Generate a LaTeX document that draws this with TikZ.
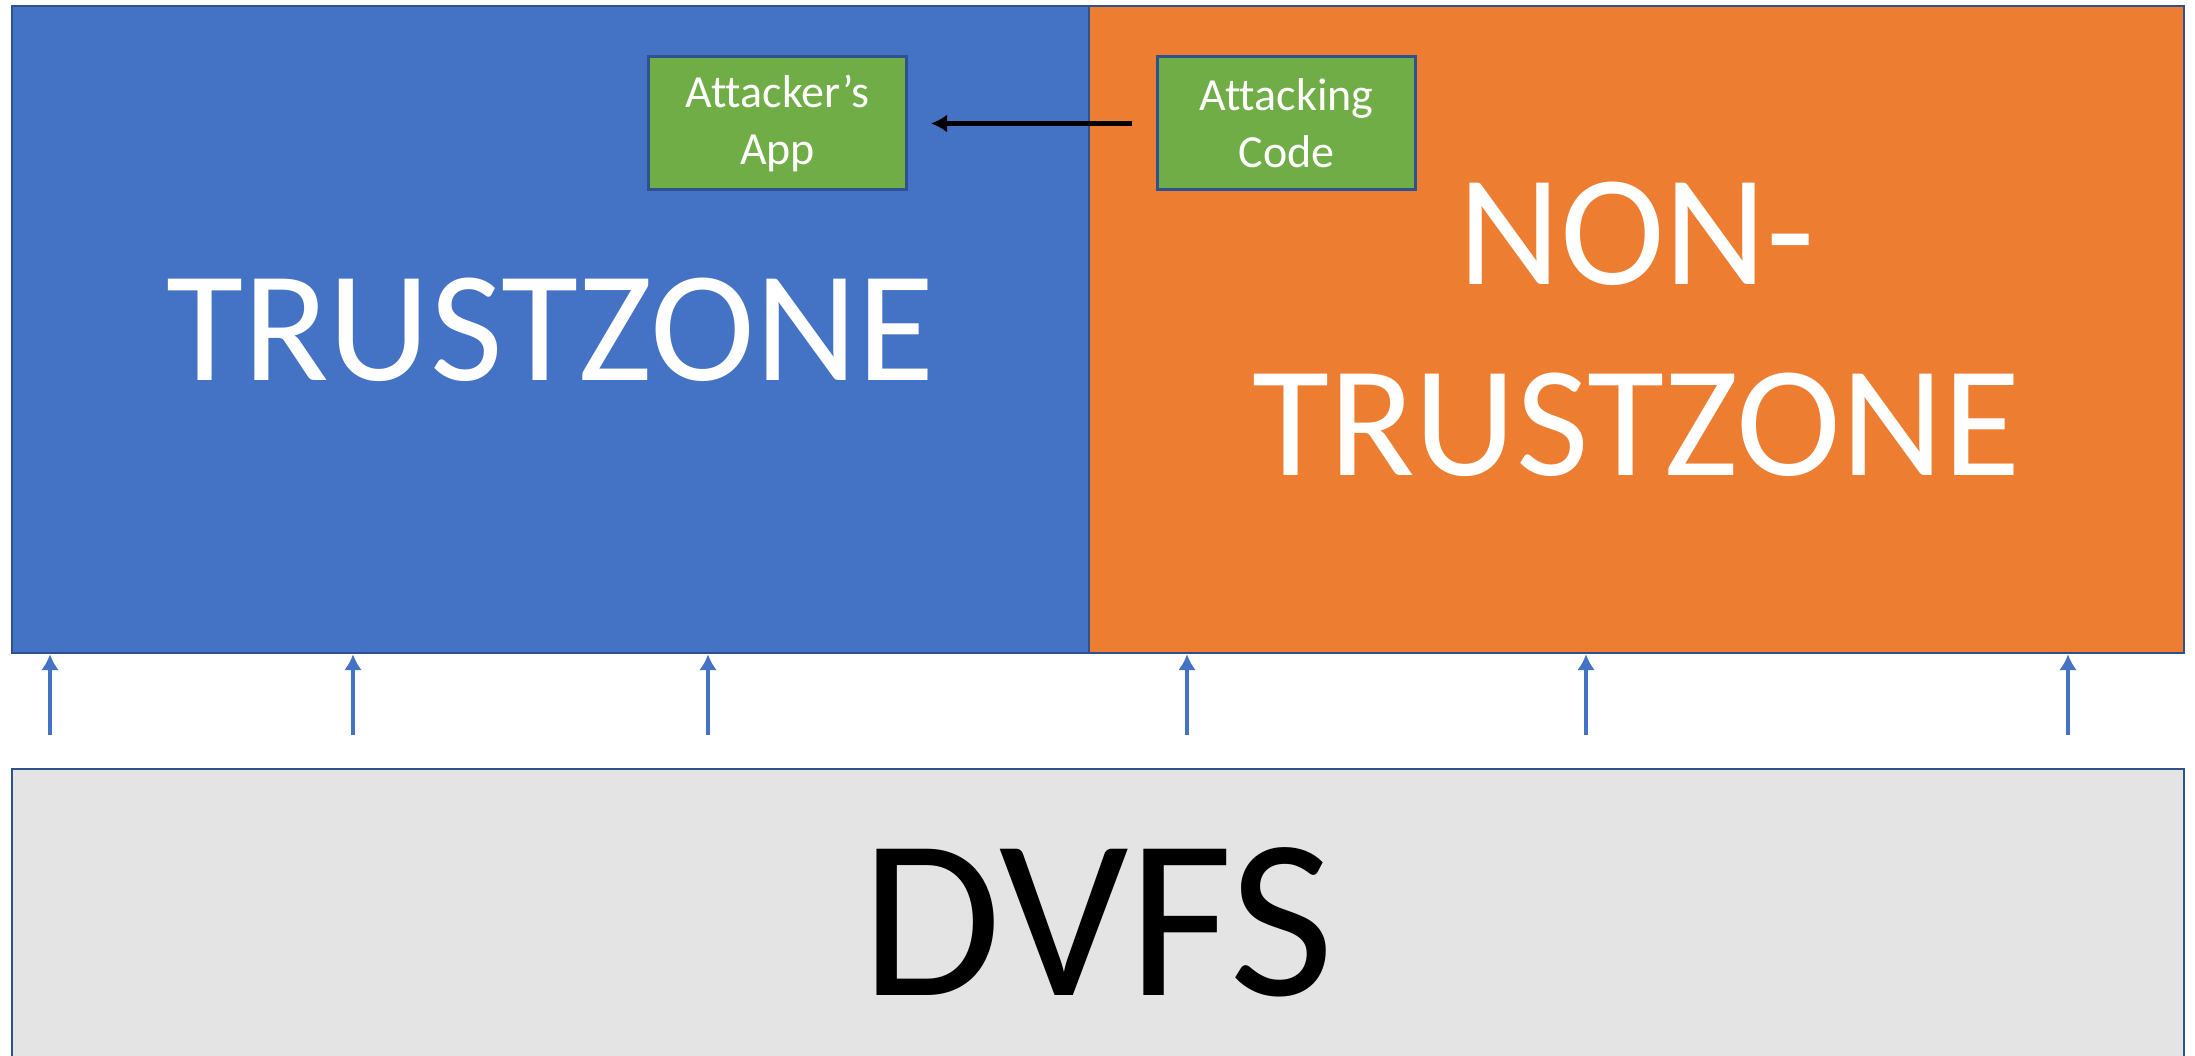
\documentclass[tikz,border=0pt]{standalone}
\usepackage{fontspec}
\setmainfont{Carlito}[Ligatures={NoCommon}]
\usetikzlibrary{arrows.meta}

\definecolor{tzblue}{HTML}{4472C4}
\definecolor{ntzorange}{HTML}{ED7D31}
\definecolor{appgreen}{HTML}{70AD47}
\definecolor{edgeblue}{HTML}{2F528F}
\definecolor{dvfsgrey}{HTML}{E4E4E4}

\tikzset{
  zone/.style={draw=edgeblue, line width=2.5pt, minimum height=647pt,
    text=white, align=center, inner sep=0pt,
    font=\fontsize{158}{191}\selectfont},
  appbox/.style={draw=edgeblue, line width=3pt, fill=appgreen,
    minimum width=258pt, minimum height=133pt, inner sep=0pt,
    text=white, align=center, font=\fontsize{46}{57}\selectfont},
  feed/.style={draw=tzblue, line width=4.5pt, -{Latex[length=16pt,width=18pt]}},
  attack/.style={draw=black, line width=4.5pt, -{Latex[length=16pt,width=18pt]}}
}

\begin{document}
\begin{tikzpicture}[x=1pt,y=1pt]
\useasboundingbox (0,0) rectangle (2195,1055);
\clip (0,0) rectangle (2195,1055);

% Zones
\node[zone, fill=tzblue, minimum width=1077pt] (tz) at (550.5,725.5) {TRUSTZONE};
\node[zone, fill=ntzorange, minimum width=1095pt] (ntz) at (1636.5,725.5) {NON-\\TRUSTZONE};

% DVFS
\node[draw=edgeblue, line width=2.5pt, fill=dvfsgrey, minimum width=2172pt,
  minimum height=306pt, inner sep=0pt, font=\fontsize{228}{260}\selectfont]
  (dvfs) at (1098,133) {DVFS};

% Applications
\node[appbox] (app) at (777.5,931.5) {Attacker’s\\App};
\node[appbox] (code) at (1286.5,931.5) {Attacking\\Code};
\draw[attack, shorten <=24pt, shorten >=23pt] (code.west) -- (app.east);

% Liens DVFS
\foreach \x [count=\i] in {50,353,708}
{
    \coordinate (f\i) at (\x,320);
    \draw[feed] (f\i) -- (f\i |- tz.south);
}
\foreach \x [count=\i from 4] in {1187,1586,2068}
{
    \coordinate (f\i) at (\x,320);
    \draw[feed] (f\i) -- (f\i |- ntz.south);
}

\end{tikzpicture}
\end{document}
